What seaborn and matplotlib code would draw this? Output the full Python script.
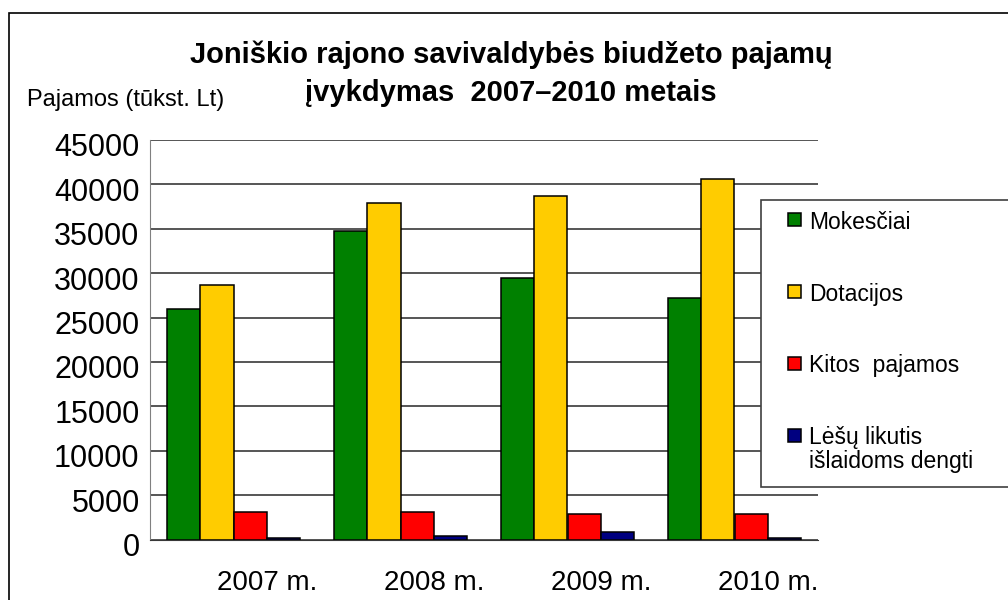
import pandas as pd
import matplotlib
matplotlib.use('Agg')
import matplotlib.pyplot as plt
import matplotlib.transforms as mtransforms
from matplotlib.patches import Rectangle
import seaborn as sns

# duomenys (tūkst. Lt)
years = ['2007 m.', '2008 m.', '2009 m.', '2010 m.']
categories = ['Mokesčiai', 'Dotacijos', 'Kitos  pajamos', 'Lėšų likutis\nišlaidoms dengti']
colors = ['#008000', '#FFCC00', '#FF0000', '#000080']
mokesciai = [26000, 34800, 29500, 27200]
dotacijos = [28700, 37900, 38700, 40600]
kitos = [3100, 3100, 2900, 2900]
likutis = [200, 400, 800, 200]
title_lines = ['Joniškio rajono savivaldybės biudžeto pajamų', 'įvykdymas  2007–2010 metais']

series = [mokesciai, dotacijos, kitos, likutis]
rows = []
for cat, vals in zip(categories, series):
    for y, v in zip(years, vals):
        rows.append({'metai': y, 'kategorija': cat, 'pajamos': v})
df = pd.DataFrame(rows)

sns.set_style('white')
plt.rcParams['font.family'] = ['Liberation Sans', 'DejaVu Sans']
plt.rcParams['text.color'] = 'black'

W, H = 1008, 600
fig = plt.figure(figsize=(W / 100, H / 100), dpi=100)
ax = fig.add_axes([150 / W, 1 - 539.5 / H, (818 - 150) / W, (539.5 - 140) / H])

sns.barplot(data=df, x='metai', y='pajamos', hue='kategorija', hue_order=categories,
            palette=colors, edgecolor='black', linewidth=1.1, saturation=1,
            legend=False, ax=ax)

ax.set_xlim(-0.5, 3.5)
ax.set_ylim(0, 45000)
ax.set_yticks(range(0, 45001, 5000))
ax.yaxis.grid(True, color='#383838', lw=1.2)
ax.set_axisbelow(True)
ax.set_xlabel('')
ax.set_ylabel('')

ax.tick_params(axis='y', labelsize=22, length=6.5, width=1, color='#808080',
               labelcolor='black', pad=1)
ax.set_xticks(range(len(years)))
ax.set_xticklabels(years)
ax.tick_params(axis='x', which='major', length=0, labelsize=20, labelcolor='black', pad=22)
ax.set_xticks([-0.5, 0.5, 1.5, 2.5, 3.5], minor=True)
ax.tick_params(axis='x', which='minor', length=6.5, width=1, color='#808080')

# tick labels slightly shifted like in the original
dx = mtransforms.ScaledTranslation(34 / 100, 0, fig.dpi_scale_trans)
for lbl in ax.get_xticklabels():
    lbl.set_transform(lbl.get_transform() + dx)
dy = mtransforms.ScaledTranslation(0, -5 / 100, fig.dpi_scale_trans)
for lbl in ax.get_yticklabels():
    lbl.set_transform(lbl.get_transform() + dy)

sns.despine(ax=ax, top=True, right=True)
ax.spines['left'].set_color('#808080')
ax.spines['bottom'].set_color('#383838')

# antraštė (dvi eilutės atskirai)
for i, line in enumerate(title_lines):
    fig.text(511 / W, 1 - (63 + 38 * i) / H, line, ha='center', va='baseline',
             fontsize=21, fontweight='bold')
fig.text(27 / W, 1 - 100 / H, 'Pajamos (tūkst. Lt)', ha='left', va='center', fontsize=17)

# legenda
fig.add_artist(Rectangle((760.5 / W, 1 - 487 / H), (1040 - 760.5) / W, (487 - 199.5) / H,
                         transform=fig.transFigure, facecolor='white', edgecolor='#404040',
                         lw=1.2, zorder=5))
for i, (cat, col) in enumerate(zip(categories, colors)):
    top = 211 + i * 71.7
    fig.add_artist(Rectangle((788 / W, 1 - (top + 15.5) / H), 13 / W, 13 / H,
                             transform=fig.transFigure, facecolor=col, edgecolor='black',
                             lw=1.1, zorder=6))
    fig.text(809 / W, 1 - top / H, cat, ha='left', va='top', fontsize=16.5,
             linespacing=1.05, zorder=6)

# rėmelis
fig.add_artist(Rectangle((9 / W, -0.1), 1.2, 1 - 13 / H + 0.1, transform=fig.transFigure,
                         fill=False, edgecolor='black', lw=1.2))

fig.savefig('out.png', dpi=100)
